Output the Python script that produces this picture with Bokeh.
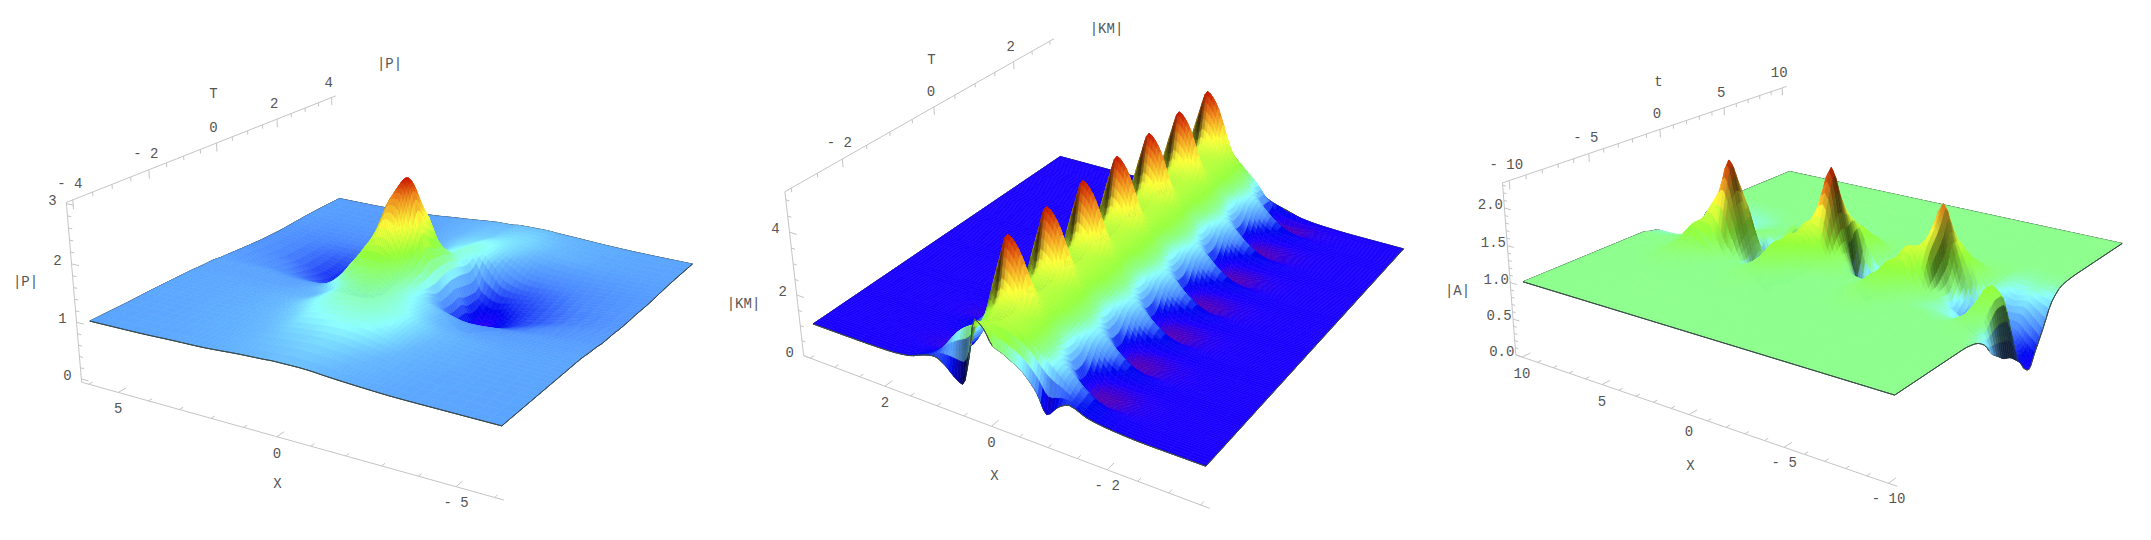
import numpy as np
from bokeh.plotting import figure
from bokeh.models import Range1d
from bokeh.core.properties import value
from bokeh.embed import file_html
from bokeh.resources import INLINE

# ---------- values (heights on a non-uniform grid) ----------
P_X = [6,4.4,3.2,2.4,1.8,1.3,.9,.5,.2,0,-.2,-.5,-.9,-1.3,-1.8,-2.4,-3.2,-4.4,-6]
P_T = [-4,-3,-2.3,-1.7,-1.2,-.8,-.5,-.25,0,.25,.5,.8,1.2,1.7,2.3,3,4]
P_Z = [
 [1,1.01,1.03,1.04,1.06,1.08,1.09,1.1,1.11,1.11,1.11,1.11,1.1,1.08,1.06,1.04,1.02,1.01,1],
 [1.0,1.02,1.04,1.06,1.09,1.12,1.15,1.17,1.18,1.19,1.2,1.2,1.18,1.15,1.11,1.07,1.03,1.01,1],
 [1.01,1.03,1.05,1.08,1.12,1.17,1.25,1.29,1.31,1.32,1.33,1.33,1.31,1.26,1.18,1.1,1.05,1.02,1.0],
 [1.01,1.03,1.05,1.09,1.14,1.24,1.33,1.4,1.43,1.45,1.45,1.43,1.38,1.32,1.2,1.12,1.06,1.02,1.0],
 [1.01,1.02,1.03,1.06,1.1,1.22,1.38,1.52,1.58,1.6,1.56,1.48,1.36,1.25,1.14,1.05,1,.99,1],
 [1,1,1,1.04,1.16,1.4,1.7,1.9,1.9,1.85,1.75,1.55,1.3,1.2,1.1,1.0,.95,.97,.98],
 [1,1,.98,1,1.1,1.38,1.75,2.15,2.4,2.35,2.1,1.7,1.3,1.1,.95,.88,.9,.94,.97],
 [.98,.97,.9,.88,.98,1.2,1.6,2.35,2.75,2.8,2.45,1.85,1.25,.95,.7,.74,.8,.9,.95],
 [.97,.9,.8,.72,.8,1.05,1.4,2.25,2.85,3.0,2.8,2.1,1.25,.75,.5,.6,.74,.88,.95],
 [.96,.87,.72,.62,.62,.85,1.15,1.8,2.5,2.8,2.55,1.95,1.3,.72,.42,.52,.68,.85,.95],
 [.95,.84,.66,.52,.5,.7,.95,1.3,1.85,2.2,2.25,1.85,1.32,.75,.36,.48,.66,.82,.94],
 [.94,.8,.62,.46,.42,.6,.85,1.05,1.3,1.45,1.55,1.6,1.3,.65,.3,.5,.68,.82,.94],
 [.93,.8,.66,.55,.55,.72,.9,1.05,1.2,1.28,1.32,1.38,1.22,.65,.5,.62,.72,.85,.95],
 [.93,.83,.78,.76,.8,.88,1.0,1.1,1.2,1.25,1.28,1.35,1.32,1.15,.85,.76,.8,.88,.95],
 [.95,.9,.9,.9,.93,1.0,1.08,1.14,1.18,1.2,1.22,1.28,1.27,1.2,1.1,.95,.92,.94,.97],
 [.97,.95,.95,.97,1,1.05,1.08,1.12,1.14,1.15,1.15,1.18,1.2,1.19,1.15,1.1,1.05,1.0,.99],
 [.98,.97,.98,1,1.03,1.05,1.07,1.09,1.1,1.1,1.1,1.12,1.12,1.12,1.1,1.08,1.05,1.02,1],
]

KM_X = [3.5,2.6,2.0,1.6,1.3,1.1,.9,.75,.6,.45,.3,.15,0,-.15,-.3,-.45,-.6,-.75,-.9,-1.1,-1.3,-1.6,-2.0,-2.6,-3.5]
KM_PEAK_T = [-2.4,-1.54,-.68,.18,1.04,1.9,2.76]
KM_PHASE = [-.43,-.3,-.2,-.1,0,.1,.2,.3]
KM_PERIOD_Z = [
 [1,1,1,1.05,1.2,1.45,1.9,2.2,2.4,2.55,2.7,2.95,3.0,2.95,2.85,2.7,2.5,2.25,2.05,1.75,1.45,1.2,1.05,1,1],
 [1,1,1,1.02,1.1,1.35,1.75,2.1,2.3,2.5,2.8,3.1,3.1,2.98,2.85,2.7,2.5,2.3,2.1,1.85,1.55,1.2,1.03,1,1],
 [1,1,.99,.97,1.0,1.15,1.5,1.85,2.2,2.6,3.0,3.6,3.45,3.15,2.85,2.7,2.5,2.3,2.05,1.65,1.25,.98,.97,1,1],
 [1,1,.98,.93,.9,.98,1.3,1.7,2.25,2.95,3.6,4.45,4.2,3.6,2.9,2.7,2.5,2.25,1.9,1.3,.9,.82,.93,.99,1],
 [1,1,.98,.93,.88,.94,1.2,1.7,2.45,3.4,4.3,5.0,4.7,4.0,3.1,2.7,2.45,2.2,1.75,1.05,.75,.78,.92,.99,1],
 [1,1,.99,.95,.92,1.0,1.3,1.7,2.25,2.95,3.6,4.5,4.25,3.6,2.9,2.65,2.4,2.15,1.75,1.02,.72,.76,.92,.99,1],
 [1,1,.99,.98,1.0,1.15,1.5,1.85,2.2,2.6,3.0,3.6,3.45,3.15,2.85,2.65,2.4,2.15,1.8,1.15,.78,.82,.94,.99,1],
 [1,1,1,1.02,1.12,1.35,1.75,2.1,2.3,2.5,2.8,3.1,3.1,2.98,2.85,2.65,2.45,2.2,1.95,1.45,1.05,.92,.97,1,1],
]
KM_FRONT_Z = [1,1,1.02,1.1,1.3,1.38,1.2,.95,.8,1.7,3.0,2.8,2.35,2.25,2.1,1.95,1.7,1.35,.81,1.16,1.35,1.15,1.05,1,1]
KM_BACK_Z = [1,1,1,1.03,1.15,1.35,1.8,2.3,2.8,3.05,3.1,3.1,3.0,2.8,2.6,2.25,1.95,1.7,1.5,1.35,1.25,1.1,1.03,1,1]

A_X = [10,9,8,7.2,6.4,5.8,5.3,4.8,4.3,3.8,3.3,2.8,2.3,1.8,1.3,.7,0,-.6,-1.2,-1.8,-2.4,-3,-3.6,-4.2,-4.8,-5.5,-6,-6.6,-7.2,-7.8,-8.4,-9,-9.5,-10]
A_T = [-10,-6,-5,-4,-3.2,-2.6,-2,-1.5,-1,-.5,0,.4,.8,1.3,2,2.8,3.8,5,7,10]
A_Z = [
 [1]*34,
 [1]*34,
 [1,1,1,1.01,1.02,1.02,1.01,1,1,1,1,1.01,1.02,1.01,1,1,1,1,1,1,1,1,1,1,1,1,1,1,1,1,1,1,1,1],
 [1,1,1.01,1.06,1.06,1.03,1.02,1.01,1,1,1.01,1.03,1.05,1.05,1.03,1.01,1,1,1,1,1.01,1.02,1.03,1.02,1,1,1,1,1,1,1,1.01,1,.97],
 [1,1,1.02,1.1,1.2,1.15,1.08,1.03,1.01,1.01,1.02,1.05,1.1,1.13,1.08,1.03,1.01,1,1,1,1.02,1.05,1.08,1.05,1.01,1,1,1,1,1,1.02,1.05,.98,.87],
 [1,1,1.02,1.08,1.35,1.45,1.45,1.25,1.05,1.0,1.0,1.05,1.15,1.27,1.2,1.08,1.02,1,1,1,1.03,1.08,1.12,1.12,1.04,1,1,1,.98,.98,1.05,1.15,1.0,.7],
 [1,1,1.02,1.06,1.3,1.5,1.75,1.9,1.5,1.05,.8,.95,1.15,1.35,1.38,1.2,1.05,1.01,1,1,1.03,1.12,1.25,1.28,1.12,1.02,.98,.97,.95,.93,1.02,1.25,1.15,.6],
 [.97,.98,1.02,1.06,1.1,1.3,1.7,2.27,1.7,1.15,.72,.55,.85,1.25,1.45,1.45,1.25,1.1,1.05,1.02,1,1.05,1.25,1.42,1.3,1.05,.98,.95,.9,.85,.85,1.35,1.25,.52],
 [.95,.95,1.0,1.04,1.08,1.22,1.5,1.95,1.7,1.25,.85,.6,.65,1.0,1.35,1.6,1.55,1.2,1.08,1.03,1,1,1.2,1.4,1.6,1.35,1.05,.95,.88,.8,.85,1.35,1.25,.48],
 [.88,.88,.98,1.03,1.07,1.12,1.27,1.5,1.25,1.0,.85,.72,.6,.72,1.25,1.6,2.0,1.4,1.05,.8,.75,.85,1.1,1.3,1.55,1.6,1.1,.88,.75,.68,.72,1.1,1.0,.4],
 [.8,.78,.92,1.0,1.04,1.08,1.15,1.1,.85,.7,.85,.85,.7,.7,1.25,1.6,2.3,1.5,.95,.6,.72,.72,.9,1.2,1.45,1.75,1.2,.8,.6,.5,.55,.7,.55,.3],
 [.72,.7,.85,.95,1.0,1.05,1.0,.85,.55,.55,.95,.9,.78,.74,1.08,1.45,2.0,1.5,.65,.55,.7,.72,.85,.98,1.35,1.9,1.3,.9,.6,.52,.5,.6,.4,.18],
 [.65,.62,.78,.9,.98,1.02,1.06,1.0,.7,.75,1.1,.82,.75,.75,.85,1.25,1.7,1.55,.85,.68,.8,.72,.82,.95,1.3,2.05,1.55,1.0,.65,.5,.48,.5,.35,.13],
 [.58,.55,.72,.85,.94,.98,1.02,1.05,1.0,1.0,1.2,.9,.8,.8,.85,1.05,1.4,1.45,1.3,1.05,.85,.78,.84,.9,1.1,1.75,1.55,1.3,.95,.68,.58,.55,.42,.3],
 [.65,.68,.78,.87,.93,.96,.98,1.0,1.0,.98,1.1,.9,.86,.84,.85,.95,1.2,1.27,1.25,1.08,.88,.82,.86,.92,1.0,1.25,1.3,1.25,1.08,.85,.75,.78,.68,.55],
 [.9,.88,.88,.9,.94,.96,.98,.99,1.0,.99,.97,.94,.92,.9,.9,.95,1.02,1.06,1.06,1.02,.95,.88,.9,.96,1,1.05,1.08,1.08,1.03,.92,.88,.92,.88,.85],
 [.98,.97,.96,.97,.98,.99,1,1,1,1,.99,.98,.97,.96,.96,.98,1,1.02,1.03,1.02,.99,.97,.97,.98,1,1.02,1.03,1.03,1.02,.98,.97,.98,.98,.98],
 [1]*34,
 [1]*34,
 [1]*34,
]

P_X_TICKS, P_T_TICKS, P_Z_TICKS = [5,0,-5], [-4,-2,0,2,4], [0,1,2,3]
KM_X_TICKS, KM_T_TICKS, KM_Z_TICKS = [2,0,-2], [-2,0,2], [0,2,4]
A_X_TICKS, A_T_TICKS, A_Z_TICKS = [10,5,0,-5,-10], [-10,-5,0,5,10], [0.0,0.5,1.0,1.5,2.0]

# ---------- colours by height ----------
RAMP = ["#6a009a","#1c00ff","#0008f0","#4a88ff","#66b8ff","#8cffff","#8cff8c","#96ff3c","#ffff3c","#f09020","#c81400"]
P_STOPS  = [.2,.34,.5,.85,1.1,1.28,1.55,1.85,2.3,2.7,3.0]
KM_STOPS = [.6,.98,1.25,1.55,1.8,2.1,2.35,2.65,3.6,4.3,5.0]
A_STOPS  = [.05,.12,.3,.55,.7,.88,1.0,1.35,1.75,2.0,2.3]

# ---------- camera calibration: reference points (X, T, z) -> zoom-crop pixel ----------
PANELS = [
 dict(xz=P_X, tz=P_T, zz=np.array(P_Z,float), stops=P_STOPS, org=(40,40,1568/680), sub=(4,4),
      box=(6.24,4.16,-.06,3.02),
      pts=[((6,-4,1),(115,845)),((6,4,1),(690,473)),((-6,4,1),(1503,670)),((-6,-4,1),(1063,1158))],
      corners=[(60,485),(93,1022),(1070,1378),(680,165)],
      xt=P_X_TICKS,tt=P_T_TICKS,zt=P_Z_TICKS,xm=1,tm=.5,zm=.2,zfmt="{:.0f}",
      light=(-.5,0,.85),knee=.4,lo=.5,boxz=.2,
      titles=[("X",277,483),("T",213,93),("|P|",389,63),("|P|",25,281)]),
 dict(xz=KM_X, tz=None, zz=None, stops=KM_STOPS, org=(720,10,1568/700), sub=(3,3),
      box=(3.64,3.12,0,5.25),
      pts=[((3.5,-3,1),(208,935)),((3.5,3,1),(760,437)),((-3.5,3,1),(1530,716)),((-3.5,-3,1),(1088,1362))],
      corners=[(143,545),(187,1040),(1095,1498),(748,85)],
      xt=KM_X_TICKS,tt=KM_T_TICKS,zt=KM_Z_TICKS,xm=.5,tm=.5,zm=.5,zfmt="{:.0f}",
      light=(-.4,.3,.87),knee=.4,lo=.22,boxz=.14,
      titles=[("X",994,475),("T",931,59),("|KM|",1106,28),("|KM|",743,303)]),
 dict(xz=A_X, tz=A_T, zz=np.array(A_Z,float), stops=A_STOPS, org=(1420,50,1568/731), sub=(4,3),
      box=(10.4,10.4,0,2.33),
      pts=[((10,-10,1),(220,690)),((10,10,1),(792,362)),((-10,10,1),(1505,580)),((-10,-10,1),(1020,1030))],
      corners=[(175,400),(205,915),(1020,1310),(785,108)],
      xt=A_X_TICKS,tt=A_T_TICKS,zt=A_Z_TICKS,xm=1,tm=1,zm=.1,zfmt="{:.1f}",
      light=(.3,-.1,.95),knee=.45,lo=.22,boxz=.2,
      titles=[("X",1690,465),("t",1658,81),("|A|",1457,290)]),
]

# assemble the KM table from its read rows
km_t, km_z = [-3.0], [KM_FRONT_Z]
for pk in KM_PEAK_T:
    for d, row in zip(KM_PHASE, KM_PERIOD_Z):
        if -3 < pk + d < 2.9:
            km_t.append(pk + d); km_z.append(row)
km_t.append(3.0); km_z.append(KM_BACK_Z)
PANELS[1]["tz"] = km_t
PANELS[1]["zz"] = np.array(km_z, float)


def camera(pairs):
    A = []
    for (X, T, Z), (u, v) in pairs:
        u, v = u/1000, v/1000
        A.append([X,T,Z,1,0,0,0,0,-u*X,-u*T,-u*Z,-u])
        A.append([0,0,0,0,X,T,Z,1,-v*X,-v*T,-v*Z,-v])
    P = np.linalg.svd(np.array(A))[2][-1].reshape(3,4)
    if (P[2] @ np.array([pairs[0][0][0],pairs[0][0][1],pairs[0][0][2],1])) < 0:
        P = -P
    return P

def project(P, X, T, Z):
    X, T, Z = np.broadcast_arrays(np.asarray(X,float), np.asarray(T,float), np.asarray(Z,float))
    h = np.stack([X,T,Z,np.ones_like(X)],-1) @ P.T
    w = h[...,2]
    return h[...,0]/w*1000, h[...,1]/w*1000, w

def pchip(x, y, xn):
    # shape-preserving drawing curve through the read values
    h = np.diff(x); d = np.diff(y)/h
    m = np.zeros_like(y)
    for i in range(1,len(y)-1):
        if d[i-1]*d[i] > 0:
            w1, w2 = 2*h[i]+h[i-1], h[i]+2*h[i-1]
            m[i] = (w1+w2)/(w1/d[i-1]+w2/d[i])
    m[0], m[-1] = d[0], d[-1]
    k = np.clip(np.searchsorted(x, xn, side="right")-1, 0, len(h)-1)
    s = (xn-x[k])/h[k]
    return ((2*s**3-3*s**2+1)*y[k] + (s**3-2*s**2+s)*h[k]*m[k]
            + (-2*s**3+3*s**2)*y[k+1] + (s**3-s**2)*h[k]*m[k+1])

def subdivide(x, n):
    return np.concatenate([np.linspace(x[i],x[i+1],n,endpoint=False) for i in range(len(x)-1)]+[[x[-1]]])

def shaded(cfg):
    # Facets of the surface: the read table stays the data, pchip only smooths the drawn mesh.
    x = np.array(cfg["xz"],float)[::-1]; t = np.array(cfg["tz"],float); z = cfg["zz"][:,::-1]
    xn, tn = subdivide(x,cfg["sub"][0]), subdivide(t,cfg["sub"][1])
    a = np.array([pchip(x,r,xn) for r in z])
    return xn, tn, np.array([pchip(t,a[:,j],tn) for j in range(a.shape[1])]).T

RGB = np.array([[int(c[i:i+2],16) for i in (1,3,5)] for c in RAMP],float)

xs_all, ys_all, fills, lines, lws = [], [], [], [], []
p = figure(width=2135, height=524, output_backend="svg", toolbar_location=None,
           x_range=Range1d(0,2135), y_range=Range1d(524,0), min_border=0,
           x_axis_type=None, y_axis_type=None, outline_line_color=None)
p.grid.visible = False

for cfg in PANELS:
    ox, oy, sx = cfg["org"]
    Xb, Tb, z0, z1 = cfg["box"]
    tofull = lambda c: (ox + c[0]/sx, oy + c[1]/3)
    pairs = [(w, tofull(c)) for w, c in cfg["pts"]]
    for w, c in zip([(Xb,-Tb,z1),(Xb,-Tb,z0),(-Xb,-Tb,z0),(Xb,Tb,z1)], cfg["corners"]):
        pairs.append((w, tofull(c)))
    P = camera(pairs)

    # box lines
    for a, b in [((Xb,-Tb,z0),(Xb,-Tb,z1)),((Xb,-Tb,z0),(-Xb,-Tb,z0)),((Xb,-Tb,z1),(Xb,Tb,z1))]:
        u, v, _ = project(P, [a[0],b[0]], [a[1],b[1]], [a[2],b[2]])
        p.line(list(u), list(v), line_color="#c4c4c4", line_width=1)

    # ticks
    def ticks(mk, step, lo, hi, major_len, minor_len):
        seg = [[],[],[],[]]
        for v0 in np.arange(np.ceil(lo/step)*step, hi+1e-9, step):
            l = major_len if any(abs(v0-m)<1e-6 for m in mk) else minor_len
            (u0,v1,_),(u2,v2,_) = mk_fn(v0,0), mk_fn(v0,l)
            seg[0].append(float(u0)); seg[1].append(float(v1)); seg[2].append(float(u2)); seg[3].append(float(v2))
        p.segment(seg[0],seg[1],seg[2],seg[3],line_color="#c4c4c4",line_width=1)
    mk_fn = lambda v,l: project(P, v, -Tb+l*Tb*2, z0)
    ticks(cfg["xt"], cfg["xm"], -Xb, Xb, .025, .012)
    mk_fn = lambda v,l: project(P, Xb, v, z1-l*(z1-z0)*2)
    ticks(cfg["tt"], cfg["tm"], -Tb, Tb, .025, .012)
    mk_fn = lambda v,l: project(P, Xb-l*Xb*2, -Tb, v)
    ticks(cfg["zt"], cfg["zm"], z0, z1, .02, .01)

    # tick labels
    tx,ty,tt = [],[],[]
    for v0 in cfg["xt"]:
        u,v,_ = project(P,v0,-Tb,z0); tx.append(float(u)); ty.append(float(v)+16); tt.append(str(v0).replace("-","- "))
    for v0 in cfg["tt"]:
        u,v,_ = project(P,Xb,v0,z1); tx.append(float(u)-3); ty.append(float(v)-16); tt.append(str(v0).replace("-","- "))
    for v0 in cfg["zt"]:
        u,v,_ = project(P,Xb,-Tb,v0); tx.append(float(u)-14); ty.append(float(v)-4); tt.append(cfg["zfmt"].format(v0))
    for s,u,v in cfg["titles"]:
        tx.append(u); ty.append(v); tt.append(s)
    p.text(tx,ty,text=tt,text_font=value("Liberation Mono"),text_font_size="14px",text_color="#555555",
           text_align="center",text_baseline="middle")

    # surface
    xn,tn,zg = shaded(cfg)
    XX,TT = np.meshgrid(xn,tn)
    u,v,w = project(P,XX,TT,zg)
    span = z1-z0
    dzdt, dzdx = np.gradient(zg/span*cfg["boxz"], tn/(2*Tb), xn/(2*Xb))
    L = np.array(cfg["light"],float)
    nl = (-dzdx*L[0] - dzdt*L[1] + L[2]) / np.sqrt(dzdx**2+dzdt**2+1)
    ratio = nl/L[2]
    bright = cfg["lo"] + (1-cfg["lo"])*np.clip(ratio/cfg["knee"],0,1)
    zc = (zg[:-1,:-1]+zg[1:,:-1]+zg[:-1,1:]+zg[1:,1:])/4
    bc = (bright[:-1,:-1]+bright[1:,:-1]+bright[:-1,1:]+bright[1:,1:])/4
    rgb = np.stack([np.interp(zc,cfg["stops"],RGB[:,k]) for k in range(3)],-1)*bc[...,None]
    dc = (w[:-1,:-1]+w[1:,:-1]+w[:-1,1:]+w[1:,1:])/4
    items = []
    for i in range(zc.shape[0]):
        for j in range(zc.shape[1]):
            c = "#%02x%02x%02x" % tuple(int(max(0,min(255,q))) for q in rgb[i,j])
            items.append((dc[i,j],[u[i,j],u[i,j+1],u[i+1,j+1],u[i+1,j]],[v[i,j],v[i,j+1],v[i+1,j+1],v[i+1,j]],c,c,.6))
    ni,nj = u.shape
    edges = [[(0,j) for j in range(nj)],[(ni-1,j) for j in range(nj)],[(i,0) for i in range(ni)],[(i,nj-1) for i in range(ni)]]
    for e in edges:
        for a,b in zip(e[:-1],e[1:]):
            items.append(((w[a]+w[b])/2-1e-6*abs(w[a]),[u[a],u[b]],[v[a],v[b]],"#3c4a4a","#3c4a4a",1.0))
    items.sort(key=lambda q:q[0], reverse=True)
    for it in items:
        xs_all.append([float(q) for q in it[1]]); ys_all.append([float(q) for q in it[2]])
        fills.append(it[3]); lines.append(it[4]); lws.append(it[5])

p.patches(xs_all,ys_all,fill_color=fills,line_color=lines,line_width=lws)

open("out.html","w").write(file_html(p,INLINE))
